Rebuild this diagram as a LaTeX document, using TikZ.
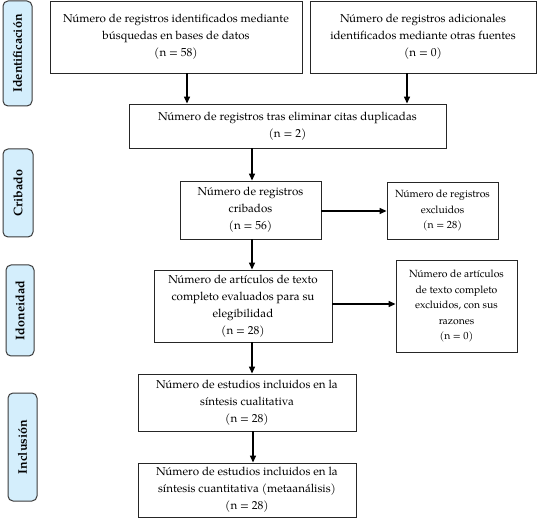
\documentclass[tikz,border=0pt]{standalone}
\usepackage{fontspec}
\setmainfont{TeX Gyre Pagella}
\usetikzlibrary{arrows.meta}
\definecolor{lblfill}{HTML}{D4EEFC}
\definecolor{lbldraw}{HTML}{3A3A3A}
\begin{document}
\begin{tikzpicture}[x=1pt,y=-1pt,
  box/.style={draw=black!85,line width=0.9pt,align=center,inner sep=0pt,
    font=\fontsize{11.6}{17}\selectfont},
  sidebox/.style={box,font=\fontsize{10.4}{15.5}\selectfont},
  lbl/.style={draw=lbldraw,fill=lblfill,rounded corners=5pt,line width=1pt,inner sep=0pt},
  lbltext/.style={rotate=90,font=\fontsize{12.5}{14}\selectfont\bfseries},
  arr/.style={line width=1.4pt,-{Triangle[width=6pt,length=7pt]}}]
\useasboundingbox (0,0) rectangle (538,518);
% side labels
\node[lbl,minimum width=29pt,minimum height=105pt] (L1) at (17.5,53.5) {};
\node[lbltext] (T1) at (L1.center) {Identificación};
\node[lbl,minimum width=30pt,minimum height=88pt] (L2) at (18,193) {};
\node[lbltext] (T2) at (L2.center) {Cribado};
\node[lbl,minimum width=28pt,minimum height=91pt] (L3) at (20,310.5) {};
\node[lbltext] (T3) at (L3.center) {Idoneidad};
\node[lbl,minimum width=29pt,minimum height=108pt] (L4) at (22.5,447) {};
\node[lbltext] (T4) at (L4.center) {Inclusión};
% boxes
\node[box,minimum width=252pt,minimum height=72pt] (b1) at (176,37)
  {Número de registros identificados mediante\\búsquedas en bases de datos\\(n = 58)};
\node[box,minimum width=226pt,minimum height=72pt] (b2) at (423,37)
  {Número de registros adicionales\\identificados mediante otras fuentes\\(n = 0)};
\node[box,minimum width=317pt,minimum height=44pt] (b3) at (287.5,126)
  {Número de registros tras eliminar citas duplicadas\\(n = 2)};
\node[box,minimum width=141pt,minimum height=58pt] (b4) at (250.5,210)
  {Número de registros\\cribados\\(n = 56)};
\node[sidebox,minimum width=111pt,minimum height=57pt] (b5) at (442.5,210.5)
  {Número de registros\\excluidos\\(n = 28)};
\node[box,minimum width=178pt,minimum height=72pt] (b6) at (243,306)
  {Número de artículos de texto\\completo evaluados para su\\elegibilidad\\(n = 28)};
\node[sidebox,minimum width=121pt,minimum height=92pt] (b7) at (456.5,306)
  {Número de artículos\\de texto completo\\excluidos, con sus\\razones\\(n = 0)};
\node[box,minimum width=218pt,minimum height=57pt] (b8) at (247,402.5)
  {Número de estudios incluidos en la\\síntesis cualitativa\\(n = 28)};
\node[box,minimum width=218pt,minimum height=54pt] (b9) at (247,490)
  {Número de estudios incluidos en la\\síntesis cuantitativa (metaanálisis)\\(n = 28)};
% arrows
\draw[arr] (b1.south -| 187,0) -- (b3.north -| 187,0);
\draw[arr] (b2.south -| 407,0) -- (b3.north -| 407,0);
\draw[arr] (b3.south -| 252,0) -- (b4.north -| 252,0);
\draw[arr] (b4.south -| 252,0) -- (b6.north -| 252,0);
\draw[arr] (b6.south -| 252,0) -- (b8.north -| 252,0);
\draw[arr] (b8.south -| 253,0) -- (b9.north -| 253,0);
\draw[arr] (b4.east |- 0,211) -- (b5.west |- 0,211);
\draw[arr] (b6.east |- 0,304) -- (b7.west |- 0,304);
\end{tikzpicture}
\end{document}
